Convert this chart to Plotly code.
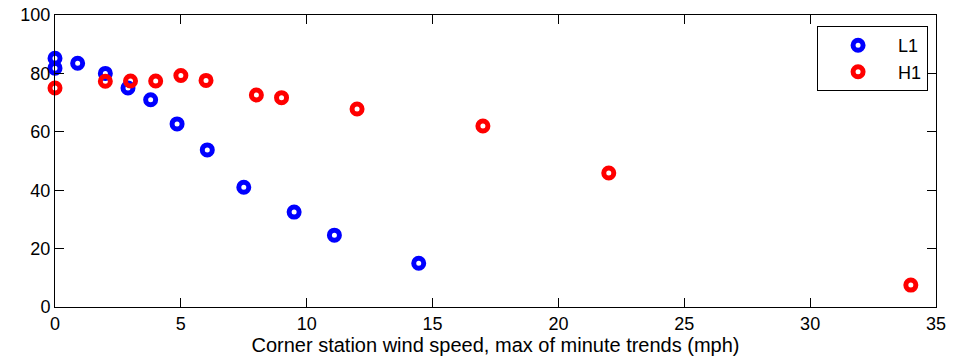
import plotly.graph_objects as go

l1_x = [0, 0, 0.9, 2.0, 2.9, 3.8, 4.85, 6.05, 7.5, 9.5, 11.1, 14.45]
l1_y = [85.2, 81.8, 83.5, 80.0, 75.0, 71.0, 62.7, 53.8, 41.0, 32.5, 24.6, 15.0]

h1_x = [0, 2, 3, 4, 5, 6, 8, 9, 12, 17, 22, 34]
h1_y = [75.0, 77.3, 77.4, 77.4, 79.3, 77.6, 72.6, 71.7, 67.8, 62.0, 45.9, 7.5]

x_ticks = [0, 5, 10, 15, 20, 25, 30, 35]
y_ticks = [0, 20, 40, 60, 80, 100]

font = "Liberation Sans, Arial, sans-serif"

fig = go.Figure()
fig.add_trace(go.Scatter(x=l1_x, y=l1_y, mode="markers", name="L1",
                         marker=dict(symbol="circle-open", size=10, color="#0000ff",
                                     line=dict(width=5, color="#0000ff")),
                         cliponaxis=False))
fig.add_trace(go.Scatter(x=h1_x, y=h1_y, mode="markers", name="H1",
                         marker=dict(symbol="circle-open", size=10, color="#ff0000",
                                     line=dict(width=5, color="#ff0000")),
                         cliponaxis=False))

axis_common = dict(showline=True, linecolor="black", linewidth=1, mirror="ticks",
                   ticks="inside", ticklen=9, tickcolor="black", tickwidth=1,
                   showgrid=False, zeroline=False, automargin=False,
                   tickfont=dict(family=font, size=18, color="black"))

fig.update_xaxes(range=[0, 35], tickvals=x_ticks, **axis_common,
                 title=dict(text="Corner station wind speed, max of minute trends (mph)",
                            font=dict(family=font, size=20, color="black"), standoff=5))
fig.update_yaxes(range=[0, 100], tickvals=y_ticks, **axis_common)

fig.update_layout(
    width=963, height=362,
    margin=dict(l=55, r=27, t=15, b=55),
    paper_bgcolor="white", plot_bgcolor="white",
    font=dict(family=font, size=18, color="black"),
    hovermode=False,
    legend=dict(x=0.991, xanchor="right", y=0.962, yanchor="top",
                bgcolor="white", bordercolor="black", borderwidth=1,
                font=dict(family=font, size=18, color="black"),
                itemwidth=70, tracegroupgap=0),
)

fig.write_html("out.html", config={"displayModeBar": False},
               post_script="document.body.style.margin='0';document.body.style.overflow='hidden';")
